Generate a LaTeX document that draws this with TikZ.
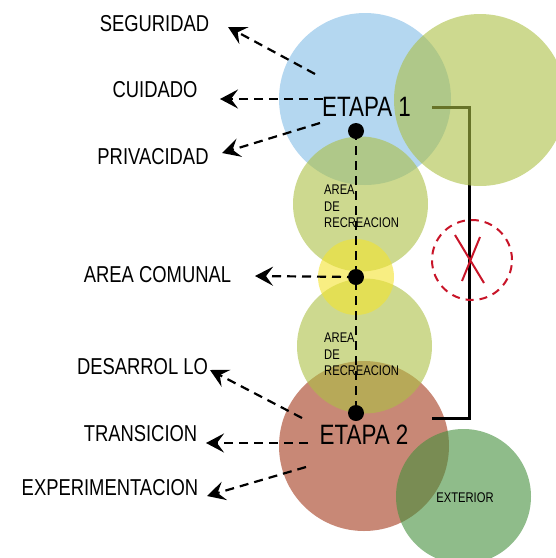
\documentclass[tikz,border=0pt]{standalone}
\usepackage{fontspec}
\newfontfamily\cond[FakeStretch=0.8]{Liberation Sans}
\usetikzlibrary{arrows.meta}
\definecolor{cblue}{RGB}{130,188,230}
\definecolor{colive}{RGB}{172,192,68}
\definecolor{cyell}{RGB}{243,227,47}
\definecolor{cbrown}{RGB}{163,57,27}
\definecolor{cgreen}{RGB}{68,143,60}
\definecolor{cred}{RGB}{200,20,40}
\tikzset{
  disc/.style={circle, inner sep=0pt, draw=none, fill opacity=0.6},
  dot/.style={circle, inner sep=0pt, fill=black, minimum size=16pt},
  dline/.style={line width=2.2pt, dash pattern=on 9pt off 6pt},
  arr/.style={dline, -{Stealth[length=18pt,width=19pt,inset=7pt]}},
  lbl/.style={font=\cond\fontsize{23}{26}\selectfont, inner sep=0pt},
  big/.style={font=\cond\fontsize{28}{30}\selectfont, inner sep=0pt},
  small/.style={font=\cond\fontsize{14}{16.5}\selectfont, inner sep=0pt, align=left, anchor=west},
}
\begin{document}
\begin{tikzpicture}[x=1pt,y=-1pt]
\useasboundingbox (0,0) rectangle (556,558);
% circles
\node[disc, fill=cblue, minimum size=172pt] (c1) at (365,99) {};
\node[disc, fill=cbrown, minimum size=170pt] (c2) at (364,446) {};
% connector between stages
\coordinate (l1) at (432,107);
\coordinate (l2) at (432,418);
\draw[line width=3pt] (l1) -- ++(37,0) |- (l2);
\node[disc, fill=colive, minimum size=172pt] (cr) at (480,100) {};
\node[disc, fill=colive, minimum size=135pt] (a1) at (360.5,204) {};
\node[disc, fill=colive, minimum size=135pt] (a2) at (364.5,346) {};
\node[disc, fill=cyell, minimum size=76pt] (cy) at (356,277) {};
\node[disc, fill=cgreen, minimum size=135pt] (cx) at (463.5,496.5) {};
% forbidden mark
\node[circle, inner sep=0pt, minimum size=80pt, draw=cred, line width=2pt, dash pattern=on 8pt off 6pt] (rc) at (472,260) {};
\coordinate (x1) at (455,235); \coordinate (x2) at (484,283);
\coordinate (x3) at (480,237); \coordinate (x4) at (462,281);
\draw[cred, line width=2pt] (x1) -- (x2) (x3) -- (x4);
% texts inside circles
\node[big] (e1) at (366.5,107) {ETAPA 1};
\node[big] (e2) at (364,435) {ETAPA 2};
\node[small] (r1) at (324,206.5) {AREA\\DE\\RECREACION};
\node[small] (r2) at (324,354.5) {AREA\\DE\\RECREACION};
\node[small, anchor=center] (ex) at (465,498) {EXTERIOR};
% dots and central dashed axis
\node[dot] (d1) at (356,131) {};
\node[dot] (d2) at (356,277) {};
\node[dot] (d3) at (356,413) {};
\draw[dline] (d1.center) -- (d3.center);
% labels
\node[lbl] (seg) at (154.5,24) {SEGURIDAD};
\node[lbl] (cui) at (155,90) {CUIDADO};
\node[lbl] (pri) at (153,157) {PRIVACIDAD};
\node[lbl] (com) at (157.5,275) {AREA COMUNAL};
\node[lbl] (des) at (142.5,367) {DESARROL LO};
\node[lbl] (tra) at (140.5,434) {TRANSICION};
\node[lbl] (exp) at (110,488) {EXPERIMENTACION};
% arrows
\coordinate (s1) at (315,74);  \coordinate (t1) at (228,27);
\coordinate (s2) at (323,99);  \coordinate (t2) at (220,99);
\coordinate (s3) at (320,123); \coordinate (t3) at (222,153);
\coordinate (t4) at (255,276);
\coordinate (s5) at (302,418); \coordinate (t5) at (210,370);
\coordinate (s6) at (308,443); \coordinate (t6) at (206,443);
\coordinate (s7) at (306,467); \coordinate (t7) at (207,496);
\draw[arr] (s1) -- (t1);
\draw[arr] (s2) -- (t2);
\draw[arr] (s3) -- (t3);
\draw[arr] (d2.center) -- (t4);
\draw[arr] (s5) -- (t5);
\draw[arr] (s6) -- (t6);
\draw[arr] (s7) -- (t7);
\end{tikzpicture}
\end{document}
